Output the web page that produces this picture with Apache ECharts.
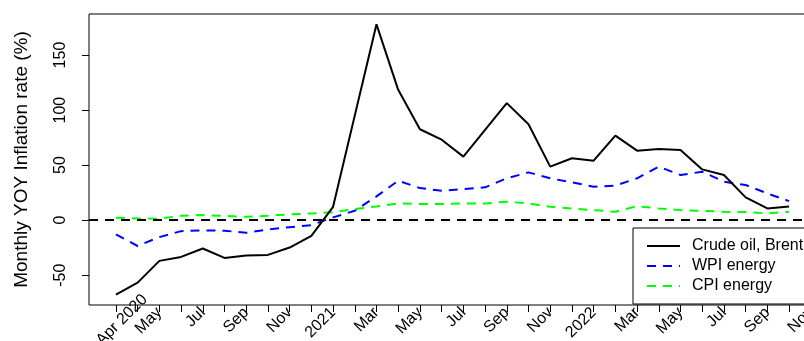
<!DOCTYPE html>
<html><head><meta charset="utf-8">
<script src="https://cdn.jsdelivr.net/npm/echarts@6/dist/echarts.min.js"></script>
<style>html,body{margin:0;padding:0;background:#fff}#c{width:804px;height:341px}</style>
</head><body><div id="c"></div>
<script>
// Monthly observations, Apr 2020 .. Nov 2022
const months = ['Apr 2020','May 2020','Jun 2020','Jul 2020','Aug 2020','Sep 2020','Oct 2020','Nov 2020','Dec 2020',
  'Jan 2021','Feb 2021','Mar 2021','Apr 2021','May 2021','Jun 2021','Jul 2021','Aug 2021','Sep 2021','Oct 2021','Nov 2021','Dec 2021',
  'Jan 2022','Feb 2022','Mar 2022','Apr 2022','May 2022','Jun 2022','Jul 2022','Aug 2022','Sep 2022','Oct 2022','Nov 2022'];
const crude = [-67.7,-56.8,-37.0,-33.4,-25.8,-34.3,-32.2,-31.6,-24.9,-14.3,12.1,95,177.9,118.4,82.6,73.1,57.7,82.0,106.3,87.1,48.6,56.2,54.0,76.8,63.1,64.7,63.8,46.1,41.0,20.7,10.6,12.5];
const wpi = [-13.0,-23.5,-15.4,-10.0,-9.3,-9.6,-11.5,-8.4,-6.4,-4.5,2.5,8.5,21.6,35.8,29.1,26.7,28.2,29.8,38.0,43.4,38.0,34.3,30.4,31.3,38.0,48.6,41.0,44.0,34.9,31.9,24.3,17.3];
const cpi = [2.2,1.5,1.3,4.0,4.6,3.9,3.0,3.9,5.2,6.1,7.2,10.0,12.5,15.2,14.6,14.6,15.2,15.2,16.7,15.2,12.1,10.6,9.1,7.6,12.7,10.6,9.1,8.5,7.6,7.3,6.1,7.6];
const seriesNames = ['Crude oil, Brent','WPI energy','CPI energy'];
const xTickLabels = ['May','Jul','Sep','Nov','2021','Mar','May','Jul','Sep','Nov','2022','Mar','May','Jul','Sep','Nov'];
const firstLabel = 'Apr 2020';
const yTicks = [-50,0,50,100,150];

const FONT = 'Liberation Sans, Arial, Helvetica, sans-serif';
const tickIdx = []; for (let i = 0; i <= 32; i++) tickIdx.push(i);
const labelIdx = xTickLabels.map((_, k) => 2 * (k + 1));
const labelMap = {}; labelIdx.forEach((v, k) => labelMap[v] = xTickLabels[k]);

const chart = echarts.init(document.getElementById('c'), null, {renderer: 'canvas'});
const toXY = arr => arr.map((v, i) => [i, v]);
chart.setOption({
  animation: false,
  backgroundColor: '#fff',
  grid: {left: 89, right: -12, top: 14, bottom: 36, show: true, borderColor: '#000', borderWidth: 1,
    backgroundColor: 'transparent', containLabel: false, outerBoundsMode: 'none'},
  xAxis: [{
    type: 'value', min: -1.24, max: 32.24, position: 'bottom',
    splitLine: {show: false},
    axisLine: {show: false, onZero: false},
    axisTick: {show: true, customValues: tickIdx, length: 7, lineStyle: {color: '#000', width: 1}},
    axisLabel: {show: true, customValues: labelIdx, rotate: 45, margin: 5, fontSize: 16, color: '#000', fontFamily: FONT,
      hideOverlap: false, formatter: v => labelMap[v] || ''}
  }, {
    type: 'value', min: -1.24, max: 32.24, position: 'bottom', offset: -13,
    splitLine: {show: false}, axisLine: {show: false, onZero: false}, axisTick: {show: false},
    axisLabel: {show: true, customValues: [1.33], rotate: 45, margin: 5, fontSize: 16, color: '#000', fontFamily: FONT,
      formatter: () => firstLabel}
  }],
  yAxis: {
    type: 'value', min: -77.1, max: 187.3,
    splitLine: {show: false},
    axisLine: {show: false, onZero: false},
    axisTick: {show: true, customValues: yTicks, length: 7, lineStyle: {color: '#000'}},
    axisLabel: {show: true, customValues: yTicks, rotate: 90, margin: 20, fontSize: 16, color: '#000', fontFamily: FONT},
    name: 'Monthly YOY Inflation rate (%)', nameLocation: 'middle', nameRotate: 90, nameGap: 58,
    nameTextStyle: {fontSize: 19, color: '#000', fontFamily: FONT}
  },
  legend: {
    orient: 'vertical', left: 633, top: 228,
    padding: [8, 14, 8, 13], itemGap: 0, itemWidth: 33, itemHeight: 20,
    backgroundColor: '#fff', borderColor: '#000', borderWidth: 1, borderRadius: 0,
    itemStyle: {opacity: 0},
    textStyle: {fontSize: 16, color: '#000', fontFamily: FONT, lineHeight: 20, padding: [0, 0, 0, 7]},
    data: seriesNames
  },
  series: [
    {name: seriesNames[0], type: 'line', data: toXY(crude), symbol: 'none', z: 3,
      lineStyle: {color: '#000', width: 2, type: 'solid'}, itemStyle: {color: '#000'},
      markLine: {silent: true, symbol: 'none', label: {show: false},
        lineStyle: {color: '#000', width: 2, type: [9, 7]}, data: [{yAxis: 0}]}},
    {name: seriesNames[1], type: 'line', data: toXY(wpi), symbol: 'none', z: 2,
      lineStyle: {color: '#0000ff', width: 2, type: [9, 7]}, itemStyle: {color: '#0000ff'}},
    {name: seriesNames[2], type: 'line', data: toXY(cpi), symbol: 'none', z: 2,
      lineStyle: {color: '#00ff00', width: 2, type: [9, 7]}, itemStyle: {color: '#00ff00'}}
  ]
});
</script></body></html>
